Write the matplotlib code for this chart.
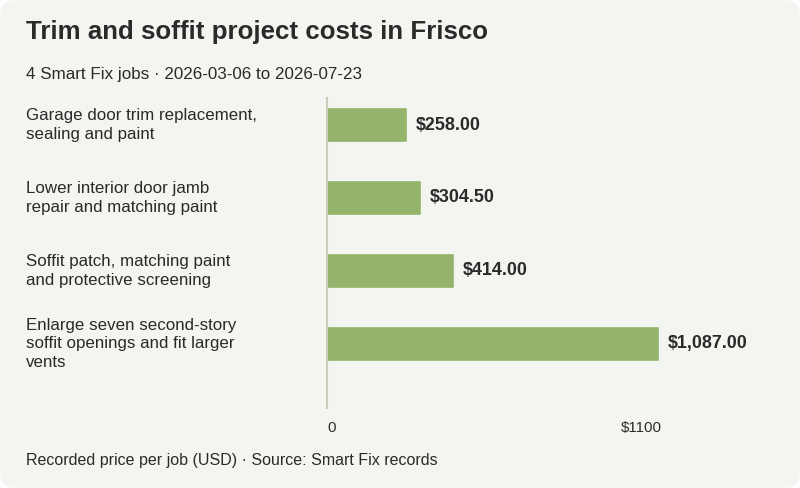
import matplotlib
matplotlib.use("Agg")
import matplotlib.pyplot as plt
from matplotlib.patches import FancyBboxPatch

categories = [
    "Garage door trim replacement,\nsealing and paint",
    "Lower interior door jamb\nrepair and matching paint",
    "Soffit patch, matching paint\nand protective screening",
    "Enlarge seven second-story\nsoffit openings and fit larger\nvents",
]
values = [258.00, 304.50, 414.00, 1087.00]
value_labels = ["$258.00", "$304.50", "$414.00", "$1,087.00"]
tick_values = [0, 1100]
tick_labels = ["0", "$1100"]

title = "Trim and soffit project costs in Frisco"
subtitle = "4 Smart Fix jobs \u00b7 2026-03-06 to 2026-07-23"
footnote = "Recorded price per job (USD) \u00b7 Source: Smart Fix records"

BG = "#f3f5f0"
BAR = "#94b36b"
TXT = "#2a2a2a"
AXC = "#c8cdbd"

plt.rcParams['font.family'] = ['Liberation Sans', 'DejaVu Sans']

W, H = 800, 488
fig = plt.figure(figsize=(W / 100, H / 100), dpi=100)
fig.patch.set_facecolor("white")
bg = FancyBboxPatch((0, 0), 1, 1, boxstyle="round,pad=0,rounding_size=0.02",
                    transform=fig.transFigure, facecolor=BG, edgecolor="none",
                    mutation_aspect=W / H, zorder=-10)
fig.patches.append(bg)

def fx(px):
    return px / W

def fy(py):
    return 1 - py / H

# axes: x from 327 to 662 px, y from 98 to 408 px
ax = fig.add_axes([fx(327), fy(408), fx(662) - fx(327), (408 - 98) / H])
ax.set_facecolor("none")
ypos = list(range(len(values)))
ax.barh(ypos, values, height=0.45, color=BAR, edgecolor=BAR, linewidth=1.2,
        joinstyle="round", zorder=2)
ax.set_xlim(0, 1100)
ax.set_ylim(3.877, -0.37)
for s in ["top", "right", "bottom"]:
    ax.spines[s].set_visible(False)
ax.spines["left"].set_color(AXC)
ax.spines["left"].set_linewidth(1.5)
ax.spines["left"].set_zorder(3)
ax.set_xticks([])
ax.set_yticks([])

for y, v, lab in zip(ypos, values, value_labels):
    ax.annotate(lab, (v, y), xytext=(10, 0), textcoords="offset pixels",
                ha="left", va="center", fontsize=12.9, fontweight="bold", color=TXT)

for v, lab, ha in zip(tick_values, tick_labels, ["left", "right"]):
    ax.annotate(lab, (v, 0), xycoords=("data", "axes fraction"),
                xytext=(0, -20), textcoords="offset pixels",
                ha=ha, va="center", fontsize=10.8, color=TXT)

for y, cat in zip(ypos, categories):
    ax.annotate(cat, (0, y), xycoords=("figure fraction", "data"),
                xytext=(26, 0), textcoords="offset pixels",
                ha="left", va="center", fontsize=12.15, color=TXT, linespacing=1.32)

fig.text(fx(26), fy(32), title, ha="left", va="center", fontsize=18.6,
         fontweight="bold", color=TXT)
fig.text(fx(26), fy(75), subtitle, ha="left", va="center", fontsize=12.25, color=TXT)
fig.text(fx(26), fy(461), footnote, ha="left", va="center", fontsize=11.5, color=TXT)

fig.savefig("out.png", dpi=100, facecolor=fig.get_facecolor())
